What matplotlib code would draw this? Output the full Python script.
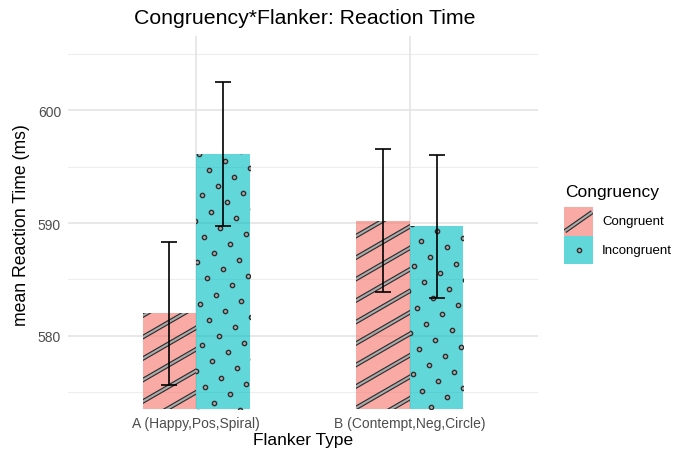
import matplotlib
matplotlib.use('Agg')
import matplotlib.pyplot as plt
import numpy as np
from matplotlib.patches import Rectangle
from matplotlib.lines import Line2D

# ---------------- data ----------------
categories = ["A (Happy,Pos,Spiral)", "B (Contempt,Neg,Circle)"]
groups = ["Congruent", "Incongruent"]
congruent_mean = [582.0, 590.2]
incongruent_mean = [596.1, 589.7]
congruent_se = [6.35, 6.35]
incongruent_se = [6.4, 6.35]
yticks = [580, 590, 600]
yminor = [575, 585, 595, 605]

title = "Congruency*Flanker: Reaction Time"
xlabel = "Flanker Type"
ylabel = "mean Reaction Time (ms)"
legend_title = "Congruency"

# ---------------- style ----------------
plt.rcParams['font.family'] = ['Liberation Sans', 'DejaVu Sans']
col_cong = '#F8766D'
col_incong = '#00BFC4'
bar_alpha = 0.62
dark = '#2E2E2E'
light = '#ABABAB'
STRIPE_OUT = 3.2   # pt
STRIPE_IN = 1.5    # pt
DOT_S = 9.5
DOT_LW = 1.0

W, H = 679, 456
fig = plt.figure(figsize=(W / 100, H / 100), dpi=100)
fig.patch.set_facecolor('white')

def fx(px):
    return px / W

def fy(py):
    return 1 - py / H

ax = fig.add_axes([fx(68), fy(410), fx(538) - fx(68), fy(37) - fy(410)])
ax.set_xlim(0.4, 2.6)
ax.set_ylim(573.5, 606.6)
for s in ax.spines.values():
    s.set_visible(False)
ax.set_facecolor('white')

# grid
for v in yminor:
    ax.axhline(v, color='#EDEDED', lw=0.8, zorder=0)
for v in yticks:
    ax.axhline(v, color='#E6E6E6', lw=1.3, zorder=0)
x = np.arange(1, len(categories) + 1)
for v in x:
    ax.axvline(v, color='#E6E6E6', lw=1.3, zorder=0)

ax.set_yticks(yticks)
ax.set_yticklabels([str(t) for t in yticks])
ax.set_xticks(x)
ax.set_xticklabels(categories)
ax.tick_params(axis='both', length=0, labelsize=10, colors='#4D4D4D')
ax.tick_params(axis='y', pad=5)
ax.tick_params(axis='x', pad=5)

bw = 0.25
bars_c = ax.bar(x - bw / 2, congruent_mean, width=bw, color=col_cong,
                alpha=bar_alpha, linewidth=0, zorder=2)
bars_i = ax.bar(x + bw / 2, incongruent_mean, width=bw, color=col_incong,
                alpha=bar_alpha, linewidth=0, zorder=2)

fig.canvas.draw()
T = ax.transData
Tinv = T.inverted()
ylo = ax.get_ylim()[0]

ang = np.deg2rad(30)
d = np.array([np.cos(ang), np.sin(ang)])
nrm = np.array([-np.sin(ang), np.cos(ang)])
spacing = 18.6


def clip_rect(bar):
    r = Rectangle((bar.get_x(), ylo), bar.get_width(), bar.get_height() - ylo,
                  transform=ax.transData, fill=False, lw=0)
    return r


def stripes(bar, anchor_img):
    xl = bar.get_x()
    xr = xl + bar.get_width()
    top = bar.get_height()
    p0 = T.transform((xl, ylo))
    p1 = T.transform((xr, top))
    anchor = np.array([anchor_img[0], H - anchor_img[1]])
    diag = np.hypot(p1[0] - p0[0], p1[1] - p0[1]) + 4 * spacing
    c = (p0 + p1) / 2
    k0 = np.dot(c - anchor, nrm) / spacing
    cr = clip_rect(bar)
    for k in range(int(k0) - 30, int(k0) + 31):
        base = anchor + k * spacing * nrm
        tproj = np.dot(c - base, d)
        a = base + (tproj - diag) * d
        b = base + (tproj + diag) * d
        pa = Tinv.transform(a)
        pb = Tinv.transform(b)
        for lw, colr in ((STRIPE_OUT, dark), (STRIPE_IN, light)):
            ln = Line2D([pa[0], pb[0]], [pa[1], pb[1]], color=colr, lw=lw,
                        solid_capstyle='butt', zorder=3)
            ax.add_line(ln)
            ln.set_clip_path(cr)


def dots(bar, anchor_img):
    xl = bar.get_x()
    xr = xl + bar.get_width()
    top = bar.get_height()
    p0 = T.transform((xl, ylo))
    p1 = T.transform((xr, top))
    anchor = np.array([anchor_img[0], H - anchor_img[1]])
    u = spacing * np.array([np.cos(ang), np.sin(ang)])
    v = spacing * np.array([-np.sin(ang), np.cos(ang)])
    pts = []
    for i in range(-40, 41):
        for j in range(-40, 41):
            p = anchor + i * u + j * v
            if p0[0] - 4 <= p[0] <= p1[0] + 4 and p0[1] - 4 <= p[1] <= p1[1] + 4:
                pts.append(Tinv.transform(p))
    pts = np.array(pts)
    sc = ax.scatter(pts[:, 0], pts[:, 1], s=DOT_S, facecolor=light,
                    edgecolor=dark, linewidths=DOT_LW, zorder=3)
    sc.set_clip_path(clip_rect(bar))


stripe_anchors = [(143, 338), (356.7, 236.7)]
dot_anchors = [(224.7, 161.7), (437.3, 232.3)]
for b, an in zip(bars_c, stripe_anchors):
    stripes(b, an)
for b, an in zip(bars_i, dot_anchors):
    dots(b, an)

# error bars
cap = 0.0375
for xs, m, se in ((x - bw / 2, congruent_mean, congruent_se),
                  (x + bw / 2, incongruent_mean, incongruent_se)):
    for xi, mi, si in zip(xs, m, se):
        ax.plot([xi, xi], [mi - si, mi + si], color='black', lw=1.2, zorder=5,
                solid_capstyle='butt')
        for yv in (mi - si, mi + si):
            ax.plot([xi - cap, xi + cap], [yv, yv], color='black', lw=1.2,
                    zorder=5, solid_capstyle='butt')

# texts
fig.text(fx(305), fy(18), title, ha='center', va='center', fontsize=15.3,
         color='black')
fig.text(fx(303), fy(441), xlabel, ha='center', va='center', fontsize=12.5,
         color='black')
fig.text(fx(22), fy(225), ylabel, ha='center', va='center', fontsize=12.7,
         rotation=90, color='black')

# legend
fig.text(fx(565), fy(193), legend_title, ha='left', va='center',
         fontsize=12.5, color='black')
lax = fig.add_axes([fx(564), fy(265), fx(593) - fx(564), fy(208) - fy(265)])
lax.set_xlim(0, 1)
lax.set_ylim(0, 2)
lax.axis('off')
lax.add_patch(Rectangle((0, 1), 1, 1, color=col_cong, alpha=bar_alpha, lw=0))
lax.add_patch(Rectangle((0, 0), 1, 1, color=col_incong, alpha=bar_alpha, lw=0))
for lw, colr in ((STRIPE_OUT, dark), (STRIPE_IN, light)):
    lax.plot([0.03, 0.97], [1.15, 1.82], color=colr, lw=lw,
             solid_capstyle='butt')
lax.scatter([0.5], [0.5], s=DOT_S, facecolor=light, edgecolor=dark,
            linewidths=DOT_LW)
fig.text(fx(602), fy(222), groups[0], ha='left', va='center', fontsize=9.5,
         color='black')
fig.text(fx(602), fy(251), groups[1], ha='left', va='center', fontsize=9.5,
         color='black')

fig.savefig('out.png', dpi=100)
